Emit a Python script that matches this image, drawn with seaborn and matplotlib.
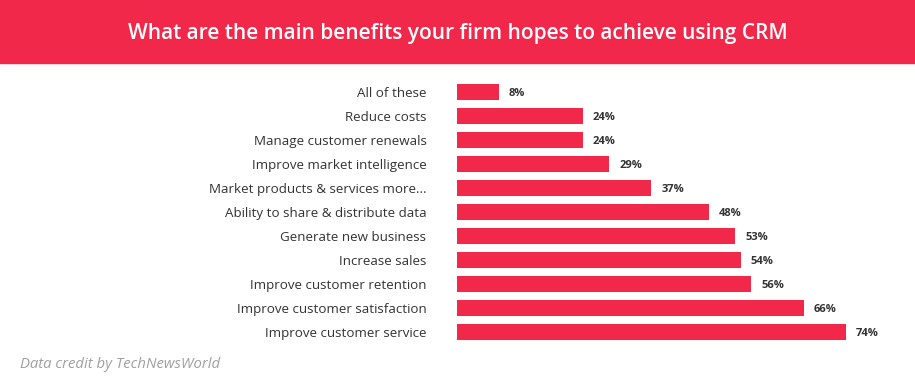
import pandas as pd
import seaborn as sns
import matplotlib.pyplot as plt
from matplotlib.patches import Rectangle

# Survey answers (share of respondents, %)
benefits = ['All of these', 'Reduce costs', 'Manage customer renewals',
            'Improve market intelligence', 'Market products & services more...',
            'Ability to share & distribute data', 'Generate new business',
            'Increase sales', 'Improve customer retention',
            'Improve customer satisfaction', 'Improve customer service']
shares = [8, 24, 24, 29, 37, 48, 53, 54, 56, 66, 74]

df = pd.DataFrame({'benefit': benefits, 'share': shares})

RED = '#F2284A'
TEXT = '#333333'
PX_PER_PCT = 5.25

sns.set_theme(style='white')
plt.rcParams['font.family'] = ['Open Sans', 'DejaVu Sans']

fig = plt.figure(figsize=(9.15, 3.89), dpi=100)

# header band
fig.patches.append(Rectangle((0, 1 - 63 / 389), 1, 63 / 389, transform=fig.transFigure,
                             color=RED, zorder=0))
fig.text(0.5, 1 - 33 / 389, 'What are the main benefits your firm hopes to achieve using CRM',
         ha='center', va='center', color='white', fontsize=15, fontweight='semibold')

ax = fig.add_axes([457 / 915, 1 - 344 / 389, 458 / 915, 264 / 389])
sns.barplot(data=df, x='share', y='benefit', color=RED, saturation=1, width=0.63,
            linewidth=0, ax=ax)
ax.set_xlim(0, 458 / PX_PER_PCT)
ax.set_ylim(10.5, -0.5)
ax.set_xlabel('')
ax.set_ylabel('')
ax.set_xticks([])
sns.despine(ax=ax, left=True, bottom=True)
ax.tick_params(axis='y', length=0, pad=22, labelsize=9.6, labelcolor=TEXT)

for i, v in enumerate(shares):
    ax.text(v + 10 / PX_PER_PCT, i, f'{v}%', va='center_baseline', ha='left', fontsize=8,
            fontweight='bold', color=TEXT)

fig.text(20 / 915, 1 - 365 / 389, 'Data credit by TechNewsWorld', ha='left', va='center',
         fontsize=10.7, fontstyle='italic', color='#a0a0a0')

fig.savefig('out.png', dpi=100)
